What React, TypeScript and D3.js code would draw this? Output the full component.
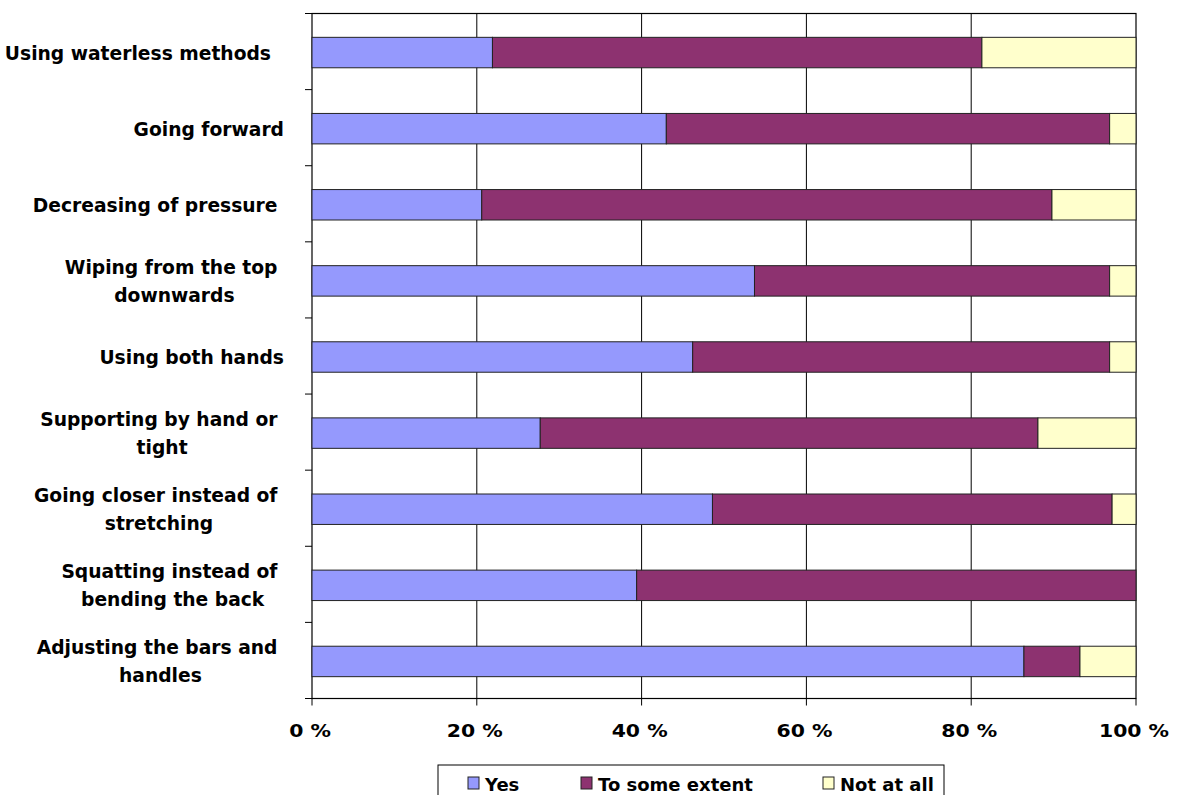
import { useEffect, useRef } from 'react'
import * as d3 from 'd3'

const categories = [
  'Using waterless methods  ',
  'Going forward',
  'Decreasing of pressure ',
  'Wiping from the top\ndownwards',
  'Using both hands',
  'Supporting by hand or\ntight',
  'Going closer instead of\nstretching',
  'Squatting instead of\nbending the back',
  'Adjusting the bars and\nhandles',
]
const seriesNames = ['Yes', 'To some extent', 'Not at all']
const yesValues = [21.9, 43.0, 20.6, 53.7, 46.2, 27.7, 48.6, 39.4, 86.4]
const someValues = [59.4, 53.8, 69.2, 43.1, 50.6, 60.4, 48.5, 60.6, 6.8]
const notValues = [18.7, 3.2, 10.2, 3.2, 3.2, 11.9, 2.9, 0, 6.8]
const xTicks = [0, 20, 40, 60, 80, 100]

const COLORS = ['#9599fd', '#8d3270', '#ffffcc']
const FONT = '"DejaVu Sans", Verdana, sans-serif'

export default function App() {
  const svgRef = useRef<SVGSVGElement | null>(null)

  useEffect(() => {
    const el = svgRef.current
    if (!el) return
    const svg = d3.select(el)
    svg.selectAll('*').remove()

    const left = 312
    const right = 1136
    const top = 13.5
    const bottom = 698.5
    const labelRight = 284

    const x = d3.scaleLinear().domain([0, 100]).range([left, right])
    const y = d3
      .scaleBand<number>()
      .domain(d3.range(categories.length))
      .range([top, bottom])
      .paddingInner(0.6)
      .paddingOuter(0.3)

    const rows = categories.map((c, i) => ({
      name: c,
      yes: yesValues[i],
      some: someValues[i],
      not: notValues[i],
    }))
    const stack = d3.stack<any>().keys(['yes', 'some', 'not'])(rows)

    // gridlines
    svg
      .append('g')
      .selectAll('line')
      .data(xTicks.slice(1, -1))
      .join('line')
      .attr('x1', (d) => x(d))
      .attr('x2', (d) => x(d))
      .attr('y1', top)
      .attr('y2', bottom)
      .attr('stroke', '#000')
      .attr('stroke-width', 1)

    // plot frame
    svg
      .append('rect')
      .attr('x', left)
      .attr('y', top)
      .attr('width', right - left)
      .attr('height', bottom - top)
      .attr('fill', 'none')
      .attr('stroke', '#000')
      .attr('stroke-width', 1.2)

    // bars
    stack.forEach((layer, si) => {
      svg
        .append('g')
        .selectAll('rect')
        .data(layer)
        .join('rect')
        .attr('x', (d) => x(d[0]))
        .attr('width', (d) => Math.max(0, x(d[1]) - x(d[0])))
        .attr('y', (_d, i) => (y(i) as number) + 1)
        .attr('height', y.bandwidth())
        .attr('fill', COLORS[si])
        .attr('stroke', (d) => (d[1] - d[0] > 0 ? '#222' : 'none'))
        .attr('stroke-width', 1)
    })

    // y ticks (category boundaries)
    const step = y.step()
    svg
      .append('g')
      .selectAll('line')
      .data(d3.range(categories.length + 1))
      .join('line')
      .attr('x1', left - 7)
      .attr('x2', left)
      .attr('y1', (i) => top + i * step)
      .attr('y2', (i) => top + i * step)
      .attr('stroke', '#000')

    // x ticks
    svg
      .append('g')
      .selectAll('line')
      .data(xTicks)
      .join('line')
      .attr('x1', (d) => x(d))
      .attr('x2', (d) => x(d))
      .attr('y1', bottom)
      .attr('y2', bottom + 7)
      .attr('stroke', '#000')

    svg
      .append('g')
      .selectAll('text')
      .data(xTicks)
      .join('text')
      .attr('transform', (d) => `translate(${x(d) - 2},737) scale(1.2,1)`)
      .attr('text-anchor', 'middle')
      .attr('font-family', FONT)
      .attr('font-weight', 'bold')
      .attr('font-size', 17)
      .text((d) => `${d} %`)

    // category labels
    const lineH = 28
    categories.forEach((cat, i) => {
      const cy = (y(i) as number) + y.bandwidth() / 2 + 1
      const lines = cat.split('\n')
      const g = svg
        .append('g')
        .attr('font-family', FONT)
        .attr('font-weight', 'bold')
        .attr('font-size', 18.7)
        .attr('fill', '#000')
      if (lines.length === 1) {
        g.append('text')
          .attr('x', labelRight)
          .attr('y', cy + 7)
          .attr('text-anchor', 'end')
          .style('white-space', 'pre')
          .text(cat)
        return
      }
      const texts = lines.map((ln, li) =>
        g
          .append('text')
          .attr('y', cy + 7 + (li - (lines.length - 1) / 2) * lineH)
          .attr('text-anchor', 'middle')
          .style('white-space', 'pre')
          .text(li < lines.length - 1 ? ln + ' ' : ln),
      )
      const maxW = d3.max(texts, (t) => (t.node() as SVGTextElement).getComputedTextLength()) || 0
      const cx = labelRight - maxW / 2
      texts.forEach((t) => t.attr('x', cx))
    })

    // legend
    const lg = svg.append('g').attr('transform', 'translate(438,765)')
    lg.append('rect')
      .attr('width', 506)
      .attr('height', 40)
      .attr('fill', '#fff')
      .attr('stroke', '#000')
      .attr('stroke-width', 1)
    const itemX = [30, 143, 385]
    seriesNames.forEach((name, i) => {
      lg.append('rect')
        .attr('x', itemX[i])
        .attr('y', 12)
        .attr('width', 11)
        .attr('height', 12)
        .attr('fill', COLORS[i])
        .attr('stroke', '#222')
      lg.append('text')
        .attr('x', itemX[i] + 17)
        .attr('y', 25.5)
        .attr('font-family', FONT)
        .attr('font-weight', 'bold')
        .attr('font-size', 18)
        .text(name)
    })
  }, [])

  return (
    <svg
      ref={svgRef}
      width={1178}
      height={795}
      style={{ position: 'absolute', left: 0, top: 0, display: 'block', background: '#fff' }}
    />
  )
}
